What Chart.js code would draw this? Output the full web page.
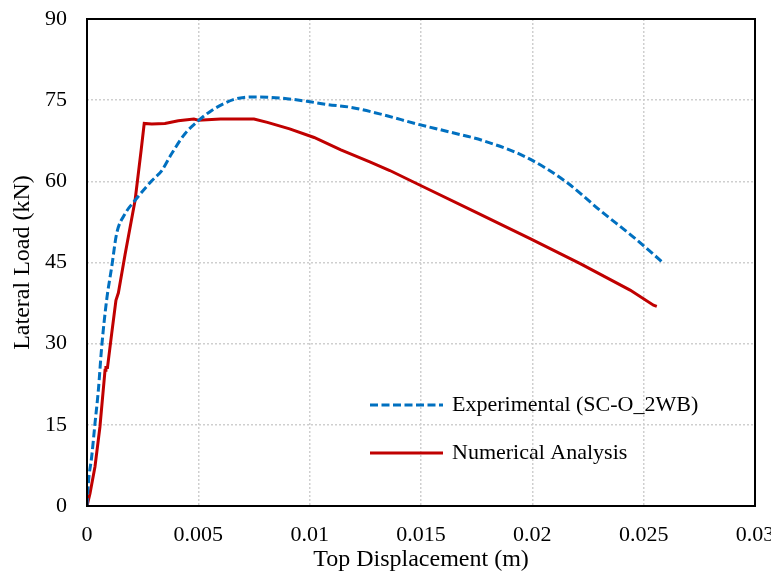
<!DOCTYPE html>
<html>
<head>
<meta charset="utf-8">
<script src="https://cdn.jsdelivr.net/npm/chart.js@4"></script>
<style>
  html, body { margin: 0; padding: 0; background: #fff; }
  #wrap { width: 771px; height: 579px; }
</style>
</head>
<body>
<div id="wrap"><canvas id="chart" width="771" height="579"></canvas></div>
<script>
// Experimental (SC-O_2WB)
const expDisp = [0, 0.00006, 0.00021, 0.00036, 0.00051, 0.00066, 0.00088, 0.00111, 0.00133, 0.00171, 0.00216,
  0.00291, 0.00336, 0.0038, 0.0044, 0.005, 0.0056, 0.00612, 0.00657,
  0.00705, 0.00762, 0.00867, 0.00987, 0.01077, 0.01181, 0.0133, 0.01481, 0.0163, 0.0178, 0.01975, 0.02155,
  0.02305, 0.02454, 0.02589];
const expLoad = [0, 4.2, 9.1, 15.3, 21.4, 29.4, 38.0, 44.2, 50.3, 54.0, 56.5,
  60.1, 62.0, 65.1, 68.8, 71.2, 73.1, 74.3, 75.1,
  75.5, 75.6, 75.4, 74.8, 74.2, 73.7, 72.3, 70.6, 69.1, 67.5, 64.4, 59.8,
  54.6, 49.7, 44.9];

// Numerical Analysis
const numDisp = [0, 0.000135, 0.00036, 0.00058, 0.00081, 0.00085, 0.00092, 0.00111, 0.0013, 0.00141, 0.00171,
  0.00216, 0.00243, 0.00257, 0.00291, 0.0035, 0.0041, 0.0048, 0.005, 0.006, 0.0075, 0.0081, 0.0091, 0.0102,
  0.0114, 0.0127, 0.0136, 0.0151, 0.0175, 0.0199, 0.02215, 0.02439, 0.02544, 0.02559];
const numLoad = [0, 2.3, 7.3, 14.6, 25.1, 25.6, 25.6, 31.9, 38.0, 39.4, 46.5,
  56.5, 65.7, 70.7, 70.6, 70.7, 71.2, 71.5, 71.3, 71.5, 71.5, 70.9, 69.7, 68.1,
  65.8, 63.6, 62.0, 59.0, 54.2, 49.4, 44.8, 39.9, 37.1, 36.9];

const xTicks = [0, 0.005, 0.01, 0.015, 0.02, 0.025, 0.03];
const yTicks = [0, 15, 30, 45, 60, 75, 90];

const seriesNames = ["Experimental (SC-O_2WB)", "Numerical Analysis"];

const FONT = "'Liberation Serif', 'Times New Roman', serif";

function toPoints(xs, ys) {
  return xs.map((x, i) => ({ x: x, y: ys[i] }));
}

// frame + legend inside the plot area
const framePlugin = {
  id: "frame",
  afterDatasetsDraw(chart) {
    const { ctx, chartArea } = chart;
    ctx.save();
    ctx.strokeStyle = "#000";
    ctx.lineWidth = 2;
    ctx.strokeRect(chartArea.left, chartArea.top, chartArea.right - chartArea.left, chartArea.bottom - chartArea.top);

    ctx.font = "22px " + FONT;
    ctx.textBaseline = "middle";
    ctx.fillStyle = "#000";
    const rows = [405, 453];
    chart.data.datasets.forEach((ds, i) => {
      const y = rows[i];
      ctx.strokeStyle = ds.borderColor;
      ctx.lineWidth = ds.borderWidth;
      ctx.setLineDash(ds.borderDash || []);
      ctx.beginPath();
      ctx.moveTo(370, y);
      ctx.lineTo(443, y);
      ctx.stroke();
      ctx.setLineDash([]);
      ctx.fillText(ds.label, 452, y);
    });
    ctx.restore();
  }
};

const gridStyle = {
  color: "#cfcfcf",
  lineWidth: 1.5,
  drawTicks: false
};

new Chart(document.getElementById("chart"), {
  type: "scatter",
  data: {
    datasets: [
      {
        label: seriesNames[0],
        data: toPoints(expDisp, expLoad),
        showLine: true,
        borderColor: "#0070C0",
        borderWidth: 3,
        borderDash: [8, 3.5],
        pointRadius: 0,
        cubicInterpolationMode: "monotone",
        fill: false
      },
      {
        label: seriesNames[1],
        data: toPoints(numDisp, numLoad),
        showLine: true,
        borderColor: "#C00000",
        borderWidth: 3,
        pointRadius: 0,
        tension: 0,
        fill: false
      }
    ]
  },
  options: {
    responsive: false,
    animation: false,
    layout: { padding: { top: 19, right: 16, left: 0, bottom: 0 } },
    plugins: {
      legend: { display: false },
      tooltip: { enabled: false }
    },
    scales: {
      x: {
        type: "linear",
        min: 0,
        max: 0.03,
        afterBuildTicks: (scale) => { scale.ticks = xTicks.map(v => ({ value: v })); },
        afterFit: (scale) => {
          scale.height = 73;
          scale.paddingLeft = 0;
          scale.paddingRight = 0;
        },
        grid: gridStyle,
        border: { display: false, dash: [2, 2] },
        ticks: {
          color: "#000",
          padding: 16,
          maxRotation: 0,
          font: { family: FONT, size: 22 },
          callback: (v) => String(v)
        },
        title: {
          display: true,
          text: "Top Displacement (m)",
          color: "#000",
          font: { family: FONT, size: 24 },
          padding: { top: 0, bottom: 5 }
        }
      },
      y: {
        type: "linear",
        min: 0,
        max: 90,
        afterBuildTicks: (scale) => { scale.ticks = yTicks.map(v => ({ value: v })); },
        afterFit: (scale) => {
          scale.width = 87;
          scale.paddingTop = 0;
          scale.paddingBottom = 0;
        },
        grid: gridStyle,
        border: { display: false, dash: [2, 2] },
        ticks: {
          color: "#000",
          padding: 20,
          font: { family: FONT, size: 22 }
        },
        title: {
          display: true,
          text: "Lateral Load (kN)",
          color: "#000",
          font: { family: FONT, size: 24 },
          padding: { top: 8, bottom: 0 }
        }
      }
    }
  },
  plugins: [framePlugin]
});
</script>
</body>
</html>
